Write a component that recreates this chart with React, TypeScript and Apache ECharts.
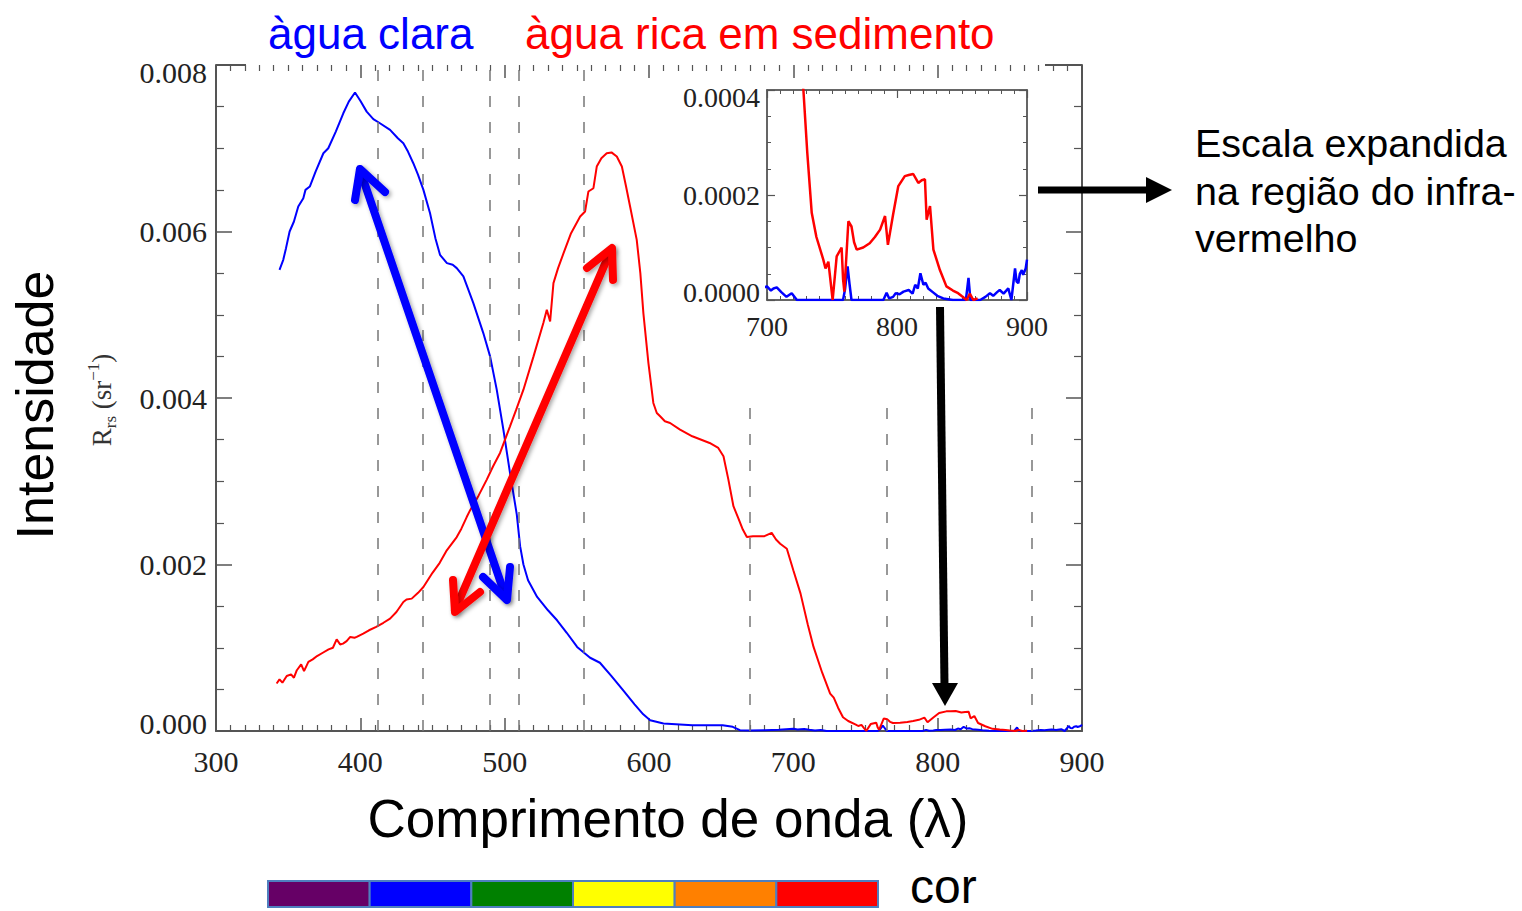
import React, { useEffect, useRef } from "react";
import * as echarts from "echarts";

// Rrs spectra: [wavelength nm, Rrs sr^-1]
const clearWater: [number, number][] = [
  [344, 0.00554], [346.6, 0.00566], [348.5, 0.0058], [351, 0.006], [354, 0.00612], [357, 0.0063],
  [360.5, 0.0064], [362, 0.0065], [365, 0.00654], [369, 0.00672], [374.4, 0.00694], [377.8, 0.007],
  [383, 0.0072], [388.2, 0.00742], [392, 0.00756], [396.3, 0.00767], [400, 0.00757], [404.4, 0.00744],
  [409, 0.00735], [413.6, 0.0073], [420.6, 0.00722], [426, 0.00712], [429.8, 0.00706], [433, 0.00696],
  [436.7, 0.00682], [440, 0.00668], [443.7, 0.0065], [448.3, 0.00622], [452, 0.00592], [455.2, 0.00572],
  [460, 0.00562], [464, 0.0056], [466.8, 0.00556], [471.4, 0.00546], [478.3, 0.00514], [485.2, 0.00478],
  [489.9, 0.0045], [494.5, 0.0041], [499.1, 0.00362], [503.7, 0.0031], [508.4, 0.0026], [510.7, 0.00222],
  [513, 0.002], [516.2, 0.00181], [522.5, 0.00161], [530, 0.00145], [536.3, 0.00133], [543, 0.00118],
  [550.2, 0.00101], [559.2, 0.00088], [566, 0.00082], [574, 0.00066], [582, 0.00049], [590, 0.00032],
  [596, 0.0002], [600.8, 0.00013], [610, 0.00009], [630, 0.00007], [651, 0.00007], [658, 0.00005],
  [663, 0.00001], [670, 0.000005], [680, 0.00001], [690, 0.000015],
  [700, 0.000026], [703, 0.000018], [705, 0.000022], [707.5, 0.000024], [711, 0.000015], [715, 0.000006],
  [719, 0.000013], [723, 0], [740, 0], [758.5, 0], [760, 0.00002], [762, 0.000064], [763.5, 0.00003],
  [765, 0], [789.5, 0], [792, 0.000014], [794, 0.000003], [797, 0.000006], [799, 0.000013], [802, 0.000011],
  [805, 0.000016], [809, 0.000019], [812, 0.000012], [814, 0.000029], [816, 0.000022], [818, 0.000051],
  [820.3, 0.000029], [822, 0.000033], [824, 0.000022], [828, 0.000014], [831, 0.000008], [835.6, 0.000003],
  [843, 0], [853, 0], [855, 0.000042], [856.5, 0], [864, 0], [868, 0.000006], [871.5, 0.000013],
  [874, 0.000008], [877, 0.000015], [879, 0.000019], [882, 0.000012], [885.6, 0.000022], [888, 0],
  [890.8, 0.00006], [892, 0.000035], [893.3, 0.000032], [894.5, 0.00005], [896, 0.000057], [897, 0.000048],
  [899, 0.00006], [900, 0.000077],
];

const sedimentWater: [number, number][] = [
  [342, 0.00057], [344, 0.00062], [346, 0.00058], [349, 0.00066], [352, 0.00068], [354, 0.00064],
  [356, 0.00073], [359, 0.0008], [361, 0.00072], [364, 0.00083], [367, 0.00086], [370, 0.0009],
  [374, 0.00094], [378, 0.00098], [381, 0.001], [383.6, 0.0011], [386, 0.00104], [388, 0.00105],
  [390.5, 0.00108], [393, 0.00113], [396, 0.00112], [397.5, 0.00113], [402, 0.00117], [406, 0.00121],
  [411, 0.00125], [416, 0.0013], [420.6, 0.00135], [425, 0.00143], [429.8, 0.00155], [432, 0.00158],
  [435.6, 0.00159], [440, 0.00166], [443.7, 0.00173], [450, 0.0019], [455, 0.00202], [459.9, 0.00217],
  [466.8, 0.00233], [470, 0.00243], [473.7, 0.00257], [476, 0.00265], [482, 0.00283], [487.6, 0.00302],
  [492, 0.00318], [496.8, 0.00334], [503.7, 0.00366], [508, 0.00386], [513, 0.0041], [520, 0.0045],
  [526.8, 0.0049], [529.2, 0.00506], [531.5, 0.00492], [533.8, 0.00538], [537, 0.00556], [540.8, 0.00574],
  [546, 0.00598], [552.3, 0.00618], [555.7, 0.00624], [558, 0.00648], [561.5, 0.00652], [563.8, 0.00678],
  [567, 0.00688], [570.7, 0.00694], [574, 0.00695], [577.7, 0.0069], [581.2, 0.00678], [584, 0.00655],
  [586.9, 0.0063], [591.5, 0.0059], [594, 0.0055], [596.1, 0.00502], [599.6, 0.00442], [603, 0.00394],
  [605.4, 0.00382], [607.7, 0.00378], [611, 0.00372], [614.6, 0.0037], [621.5, 0.00362], [630, 0.00354],
  [642, 0.00346], [648, 0.0034], [651.6, 0.0033], [655, 0.00302], [658.5, 0.0027], [662, 0.00255],
  [665, 0.00242], [667.8, 0.00233], [672, 0.00234], [680, 0.00234], [685, 0.00238], [688, 0.0023],
  [690.9, 0.00225], [695.5, 0.00219], [700, 0.00193], [705, 0.00165], [710, 0.00128], [714, 0.00101],
  [720, 0.0007], [725.5, 0.00045], [728, 0.0004], [731, 0.00028], [734.4, 0.000166], [738, 0.00012],
  [743.3, 0.000077], [745, 0.00006], [747.2, 0.000073], [750.5, 0], [753.6, 0.000083], [757.4, 0.0001],
  [758.5, 0.00004], [759.5, 0.000016], [762.6, 0.00015], [765, 0.00014], [767, 0.00011], [769, 0.000096],
  [774, 0.0001], [779, 0.000108], [783, 0.00012], [787, 0.000134], [790.8, 0.00016], [793, 0.000105],
  [797, 0.000163], [801, 0.000217], [806, 0.000236], [809, 0.000238], [812.5, 0.00024], [816.4, 0.000223],
  [819, 0.000228], [821.5, 0.00023], [822.8, 0.000153], [825.4, 0.000179], [828, 0.000096], [833, 0.000057],
  [838, 0.000026], [843, 0.000018], [847, 0.000013], [850, 0.000007], [853.6, 0], [856, 0.000012],
  [858.7, 0], [862, 0.000003],
];

const fullHeightLines = [412, 443, 490, 510, 555];
const lowerLines = [670, 765, 865];
const insetLines = [765, 865];
const spectrumColors = ["#660066", "#0000ff", "#008000", "#ffff00", "#ff8000", "#ff0000"];
const titleClear = "àgua clara";
const titleSediment = "àgua rica em sedimento";
const noteLines = ["Escala expandida", "na região do infra-", "vermelho"];
const yTitle = "Intensidade";
const xTitle = "Comprimento de onda (λ)";
const colorLabel = "cor";

const SERIF = '"Liberation Serif", "DejaVu Serif", serif';
const SANS = '"Liberation Sans", Arial, sans-serif';
const AX = "#555";

function axisBase(extra: any) {
  return {
    type: "value",
    splitLine: { show: false },
    minorSplitLine: { show: false },
    ...extra,
  };
}

// y labels at the ends of the axes are pulled inward, as in the reference
function edgeLabels(digits: number, max: number, fontSize: number) {
  return {
    fontFamily: SERIF,
    fontSize,
    color: "#222",
    formatter: (v: number) => {
      const t = v.toFixed(digits);
      if (Math.abs(v) < 1e-12) return `{lo|${t}}`;
      if (Math.abs(v - max) < max * 1e-6) return `{hi|${t}}`;
      return t;
    },
    rich: {
      lo: { fontFamily: SERIF, fontSize, color: "#222", padding: [0, 0, 16, 0] },
      hi: { fontFamily: SERIF, fontSize, color: "#222", padding: [14, 0, 0, 0] },
    },
  };
}

export default function App() {
  const ref = useRef<HTMLDivElement>(null);
  useEffect(() => {
    const chart = echarts.init(ref.current!, null, { renderer: "svg" });
    const tickStyle = { color: AX, width: 1.5 };
    const mainMark = {
      silent: true,
      symbol: ["none", "none"],
      label: { show: false },
      emphasis: { disabled: true },
      lineStyle: { type: [11, 15], color: "#777", width: 1.5 },
      data: [
        ...fullHeightLines.map((x) => [{ coord: [x, 0] }, { coord: [x, 0.008] }]),
        ...lowerLines.map((x) => [{ coord: [x, 0] }, { coord: [x, 0.004] }]),
      ],
    };
    const insetMark = {
      silent: true,
      symbol: ["none", "none"],
      label: { show: false },
      emphasis: { disabled: true },
      lineStyle: { type: [9, 12], color: "#777", width: 1.3 },
      data: insetLines.map((x) => [{ coord: [x, 0] }, { coord: [x, 0.0004] }]),
    };

    const graphics: any[] = [];
    graphics.push(
      { type: "line", shape: { x1: 216, y1: 65, x2: 246, y2: 65 }, style: { stroke: AX, lineWidth: 2 } },
      { type: "line", shape: { x1: 1045, y1: 65, x2: 1082, y2: 65 }, style: { stroke: AX, lineWidth: 2 } }
    );
    graphics.push(
      { type: "text", x: 268, y: 33, style: { text: titleClear, font: `44px ${SANS}`, fill: "#0000ff", textAlign: "left", verticalAlign: "middle" } },
      { type: "text", x: 525, y: 33, style: { text: titleSediment, font: `44px ${SANS}`, fill: "#ff0000", textAlign: "left", verticalAlign: "middle" } },
      { type: "text", x: 35, y: 405, rotation: Math.PI / 2, style: { text: yTitle, font: `52px ${SANS}`, fill: "#000", textAlign: "center", verticalAlign: "middle" } },
      {
        type: "text", x: 102, y: 400, rotation: Math.PI / 2,
        style: {
          text: "{r|R}{s|rs}{r| (sr}{u|−1}{r|)}",
          textAlign: "center", verticalAlign: "middle",
          rich: {
            r: { fontFamily: SERIF, fontSize: 27, fill: "#333", lineHeight: 34, verticalAlign: "middle" },
            s: { fontFamily: SERIF, fontSize: 17, fill: "#333", lineHeight: 34, verticalAlign: "bottom" },
            u: { fontFamily: SERIF, fontSize: 17, fill: "#333", lineHeight: 34, verticalAlign: "top" },
          },
        },
      },
      { type: "text", x: 668, y: 818, style: { text: xTitle, font: `53px ${SANS}`, fill: "#000", textAlign: "center", verticalAlign: "middle" } },
      { type: "text", x: 910, y: 886, style: { text: colorLabel, font: `48px ${SANS}`, fill: "#000", textAlign: "left", verticalAlign: "middle" } }
    );
    noteLines.forEach((t, i) => {
      graphics.push({ type: "text", x: 1195, y: 143 + i * 47.5, style: { text: t, font: `39.5px ${SANS}`, fill: "#000", textAlign: "left", verticalAlign: "middle" } });
    });
    const barW = (878 - 268) / spectrumColors.length;
    spectrumColors.forEach((c, i) => {
      graphics.push({ type: "rect", shape: { x: 268 + i * barW, y: 881, width: barW, height: 26 }, style: { fill: c, stroke: "#4f7fbf", lineWidth: 2 } });
    });
    const arrowStyle = (color: string) => ({
      stroke: color, lineWidth: 8, lineCap: "round", lineJoin: "round", fill: null,
      shadowBlur: 4, shadowColor: "rgba(0,0,0,0.35)", shadowOffsetX: 2, shadowOffsetY: 2,
    });
    graphics.push(
      { type: "polyline", z: 100, shape: { points: [[360, 170], [506, 598]] }, style: arrowStyle("#0000ff") },
      { type: "polyline", z: 100, shape: { points: [[355, 200], [360, 169], [385, 192]] }, style: arrowStyle("#0000ff") },
      { type: "polyline", z: 100, shape: { points: [[483, 577], [507, 600], [510, 567]] }, style: arrowStyle("#0000ff") },
      { type: "polyline", z: 101, shape: { points: [[611, 250], [455, 610]] }, style: arrowStyle("#ff0000") },
      { type: "polyline", z: 101, shape: { points: [[587, 268], [612, 248], [613, 280]] }, style: arrowStyle("#ff0000") },
      { type: "polyline", z: 101, shape: { points: [[453, 580], [455, 612], [480, 592]] }, style: arrowStyle("#ff0000") },
      { type: "line", z: 100, shape: { x1: 1038, y1: 190, x2: 1150, y2: 190 }, style: { stroke: "#000", lineWidth: 7 } },
      { type: "polygon", z: 100, shape: { points: [[1146, 177], [1172, 190], [1146, 203]] }, style: { fill: "#000" } },
      { type: "line", z: 100, shape: { x1: 940, y1: 307, x2: 944.5, y2: 686 }, style: { stroke: "#000", lineWidth: 8 } },
      { type: "polygon", z: 100, shape: { points: [[932, 683], [945, 706], [958, 683]] }, style: { fill: "#000" } }
    );

    const option: any = {
      animation: false,
      backgroundColor: "#fff",
      grid: [
        { left: 216, top: 65, width: 866, height: 666, show: false },
        { left: 767, top: 90, width: 260, height: 210, show: true, backgroundColor: "#fff", borderColor: "#777", borderWidth: 1.5, z: 10 },
      ],
      xAxis: [
        axisBase({
          gridIndex: 0, min: 300, max: 900, interval: 100, position: "bottom",
          axisLine: { show: true, onZero: false, lineStyle: { color: AX, width: 2 } },
          axisTick: { show: true, inside: true, length: 13, lineStyle: tickStyle },
          minorTick: { show: true, splitNumber: 10, length: 6, lineStyle: { color: AX, width: 1.2 } },
          axisLabel: { fontFamily: SERIF, fontSize: 30, color: "#222", margin: 15 },
        }),
        axisBase({
          gridIndex: 0, min: 300, max: 900, interval: 100, position: "top",
          axisLine: { show: false, onZero: false },
          axisTick: { show: true, inside: true, length: 13, lineStyle: tickStyle },
          minorTick: { show: true, splitNumber: 10, length: 6, lineStyle: { color: AX, width: 1.2 } },
          axisLabel: { show: false },
        }),
        axisBase({
          gridIndex: 1, min: 700, max: 900, interval: 100, position: "bottom", z: 11,
          axisLine: { show: true, onZero: false, lineStyle: { color: AX, width: 1.5 } },
          axisTick: { show: true, inside: true, length: 8, lineStyle: { color: AX, width: 1.2 } },
          minorTick: { show: true, splitNumber: 10, length: 4, lineStyle: { color: AX, width: 1 } },
          axisLabel: { fontFamily: SERIF, fontSize: 28, color: "#222", margin: 12 },
        }),
        axisBase({
          gridIndex: 1, min: 700, max: 900, interval: 100, position: "top", z: 11,
          axisLine: { show: true, onZero: false, lineStyle: { color: AX, width: 1.5 } },
          axisTick: { show: true, inside: true, length: 8, lineStyle: { color: AX, width: 1.2 } },
          minorTick: { show: true, splitNumber: 10, length: 4, lineStyle: { color: AX, width: 1 } },
          axisLabel: { show: false },
        }),
      ],
      yAxis: [
        axisBase({
          gridIndex: 0, min: 0, max: 0.008, interval: 0.002, position: "left",
          axisLine: { show: true, onZero: false, lineStyle: { color: AX, width: 2 } },
          axisTick: { show: true, inside: true, length: 16, lineStyle: tickStyle },
          minorTick: { show: true, splitNumber: 4, length: 8, lineStyle: { color: AX, width: 1.2 } },
          axisLabel: { ...edgeLabels(3, 0.008, 30), margin: 9 },
        }),
        axisBase({
          gridIndex: 0, min: 0, max: 0.008, interval: 0.002, position: "right",
          axisLine: { show: true, onZero: false, lineStyle: { color: AX, width: 2 } },
          axisTick: { show: true, inside: true, length: 16, lineStyle: tickStyle },
          minorTick: { show: true, splitNumber: 4, length: 8, lineStyle: { color: AX, width: 1.2 } },
          axisLabel: { show: false },
        }),
        axisBase({
          gridIndex: 1, min: 0, max: 0.0004, interval: 0.0002, position: "left", z: 11,
          axisLine: { show: true, onZero: false, lineStyle: { color: AX, width: 1.5 } },
          axisTick: { show: true, inside: true, length: 8, lineStyle: { color: AX, width: 1.2 } },
          minorTick: { show: true, splitNumber: 4, length: 4, lineStyle: { color: AX, width: 1 } },
          axisLabel: { ...edgeLabels(4, 0.0004, 28), margin: 7 },
        }),
        axisBase({
          gridIndex: 1, min: 0, max: 0.0004, interval: 0.0002, position: "right", z: 11,
          axisLine: { show: true, onZero: false, lineStyle: { color: AX, width: 1.5 } },
          axisTick: { show: true, inside: true, length: 8, lineStyle: { color: AX, width: 1.2 } },
          minorTick: { show: true, splitNumber: 4, length: 4, lineStyle: { color: AX, width: 1 } },
          axisLabel: { show: false },
        }),
      ],
      series: [
        {
          name: "clear", type: "line", xAxisIndex: 0, yAxisIndex: 0, data: clearWater,
          symbol: "none", showSymbol: false, lineStyle: { color: "#0000ff", width: 2 }, markLine: mainMark,
        },
        {
          name: "sediment", type: "line", xAxisIndex: 0, yAxisIndex: 0, data: sedimentWater,
          symbol: "none", showSymbol: false, lineStyle: { color: "#ff0000", width: 2 },
        },
        {
          name: "clearInset", type: "line", xAxisIndex: 2, yAxisIndex: 2, data: clearWater, z: 12, clip: true,
          symbol: "none", showSymbol: false, lineStyle: { color: "#0000ff", width: 2.5 }, markLine: insetMark,
        },
        {
          name: "sedimentInset", type: "line", xAxisIndex: 2, yAxisIndex: 2, data: sedimentWater, z: 13, clip: true,
          symbol: "none", showSymbol: false, lineStyle: { color: "#ff0000", width: 2.5 },
        },
      ],
      graphic: { elements: graphics },
    };
    chart.setOption(option);
    return () => chart.dispose();
  }, []);
  return (
    <div
      ref={ref}
      style={{ position: "fixed", left: 0, top: 0, width: 1522, height: 911, background: "#fff" }}
    />
  );
}
